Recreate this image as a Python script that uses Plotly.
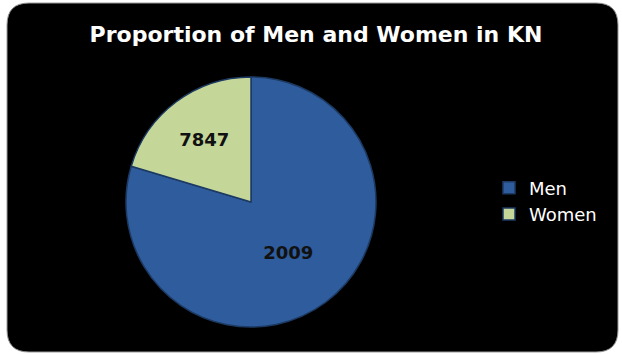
import plotly.graph_objects as go

categories = ["Men", "Women"]
values = [7847, 2009]
slice_labels = ["2009", "7847"]
colors = ["#2e5c9c", "#c4d799"]

W, H = 622, 354

fig = go.Figure()
fig.add_trace(go.Pie(
    labels=categories,
    values=values,
    text=slice_labels,
    textinfo="text",
    textposition="inside",
    insidetextorientation="horizontal",
    insidetextfont=dict(family="DejaVu Sans", size=18, color="#111111", weight="bold"),
    marker=dict(colors=colors, line=dict(color="#1d3a63", width=1.5)),
    sort=False,
    direction="clockwise",
    rotation=0,
    domain=dict(x=[126 / W, 376 / W], y=[(H - 327) / H, (H - 77) / H]),
    hoverinfo="label+value",
))

# rounded black background panel
x0, x1 = 7 / W, 618 / W
y0, y1 = 1 - 352 / H, 1 - 3 / H
rx, ry = 22 / W, 22 / H
path = (f"M {x0+rx},{y0} L {x1-rx},{y0} Q {x1},{y0} {x1},{y0+ry} "
        f"L {x1},{y1-ry} Q {x1},{y1} {x1-rx},{y1} "
        f"L {x0+rx},{y1} Q {x0},{y1} {x0},{y1-ry} "
        f"L {x0},{y0+ry} Q {x0},{y0} {x0+rx},{y0} Z")
fig.add_shape(type="path", path=path, xref="paper", yref="paper",
              fillcolor="#000000", line=dict(color="#9a9a9a", width=1), layer="below")

fig.update_layout(
    width=W, height=H,
    margin=dict(l=0, r=0, t=0, b=0),
    paper_bgcolor="#ffffff",
    plot_bgcolor="rgba(0,0,0,0)",
    title=dict(text="<b>Proportion of Men and Women in KN</b>",
               x=316 / W, xanchor="center", y=1 - 34 / H, yanchor="middle",
               font=dict(family="DejaVu Sans", size=22, color="#ffffff")),
    legend=dict(x=489 / W, xanchor="left", y=1 - 201 / H, yanchor="middle",
                font=dict(family="DejaVu Sans", size=18, color="#ffffff"),
                bgcolor="rgba(0,0,0,0)", itemwidth=30),
    showlegend=True,
)

fig.write_html("out.html", config={"displayModeBar": False},
               post_script="document.body.style.margin='0';")
